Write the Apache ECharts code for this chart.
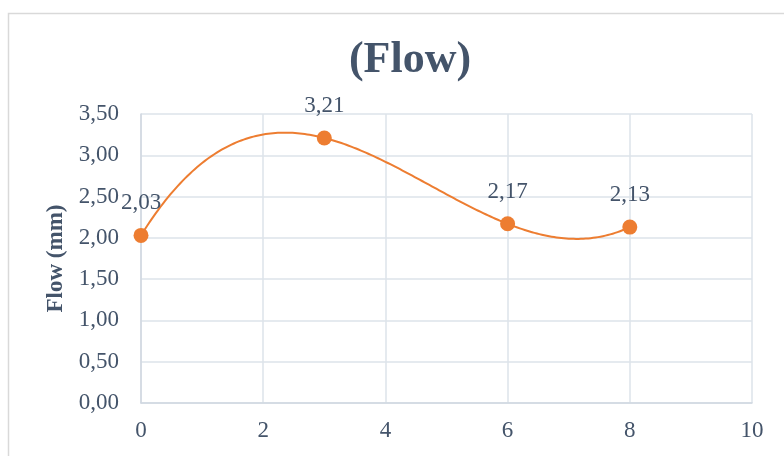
<!DOCTYPE html>
<html><head><meta charset="utf-8">
<script src="https://cdn.jsdelivr.net/npm/echarts@6/dist/echarts.min.js"></script>
<style>html,body{margin:0;padding:0;background:#fff}#c{width:784px;height:456px}</style>
</head><body><div id="c"></div>
<script>
const xValues = [0, 3, 6, 8];
const flowValues = [2.03, 3.21, 2.17, 2.13];
const titleText = '(Flow)';
const yAxisName = 'Flow (mm)';
const seriesData = xValues.map((x, i) => [x, flowValues[i]]);
const fmt = v => Number(v).toFixed(2).replace('.', ',');
const font = '"Liberation Serif", "Times New Roman", serif';
const txt = '#44546a';
// smooth curve through the data points (interpolating polynomial), rendered via the axis scales
function curveAt(x) {
  let s = 0;
  for (let i = 0; i < xValues.length; i++) {
    let l = 1;
    for (let j = 0; j < xValues.length; j++) if (j !== i) l *= (x - xValues[j]) / (xValues[i] - xValues[j]);
    s += flowValues[i] * l;
  }
  return s;
}
const chart = echarts.init(document.getElementById('c'), null, {renderer: 'canvas'});
chart.setOption({
  animation: false,
  backgroundColor: '#fff',
  graphic: [{type: 'rect', left: 6, top: 11, shape: {width: 800, height: 500}, style: {fill: 'none', stroke: '#d9d9d9', lineWidth: 1.5}, z: -1}],
  title: {text: titleText, left: 405, top: 34, textAlign: 'center',
    textStyle: {fontFamily: font, fontSize: 44, fontWeight: 'bold', color: txt}},
  grid: {left: 141, right: 32, top: 114, bottom: 53},
  xAxis: {type: 'value', min: 0, max: 10, interval: 2,
    axisLine: {show: true, lineStyle: {color: '#d0d7e1', width: 1.5}},
    axisTick: {show: false},
    splitLine: {show: true, lineStyle: {color: '#dde3ea', width: 1.5}},
    axisLabel: {margin: 16, fontFamily: font, fontSize: 23, color: txt}},
  yAxis: {type: 'value', min: 0, max: 3.5, interval: 0.5,
    name: yAxisName, nameLocation: 'middle', nameGap: 73, nameRotate: 90,
    nameTextStyle: {fontFamily: font, fontSize: 23, fontWeight: 'bold', color: txt},
    axisLine: {show: true, lineStyle: {color: '#d0d7e1', width: 1.5}},
    axisTick: {show: false},
    splitLine: {show: true, lineStyle: {color: '#dde3ea', width: 1.5}},
    axisLabel: {margin: 22, fontFamily: font, fontSize: 23, color: txt, formatter: fmt}},
  series: [
    {type: 'custom', data: seriesData, z: 2, silent: true,
      renderItem: (params, api) => {
        if (params.dataIndex !== 0) return null;
        const x0 = xValues[0], x1 = xValues[xValues.length - 1];
        const pts = [];
        const n = 200;
        for (let k = 0; k <= n; k++) {
          const x = x0 + (x1 - x0) * k / n;
          pts.push(api.coord([x, curveAt(x)]));
        }
        return {type: 'polyline', shape: {points: pts}, style: {stroke: '#ed7d31', lineWidth: 2, fill: null}};
      }},
    {type: 'scatter', data: seriesData, z: 3,
      symbol: 'circle', symbolSize: 15,
      itemStyle: {color: '#ed7d31', opacity: 1},
      label: {show: true, position: 'top', distance: 13, fontFamily: font, fontSize: 23, color: txt,
        formatter: p => fmt(p.value[1])}}
  ]
});
</script></body></html>
